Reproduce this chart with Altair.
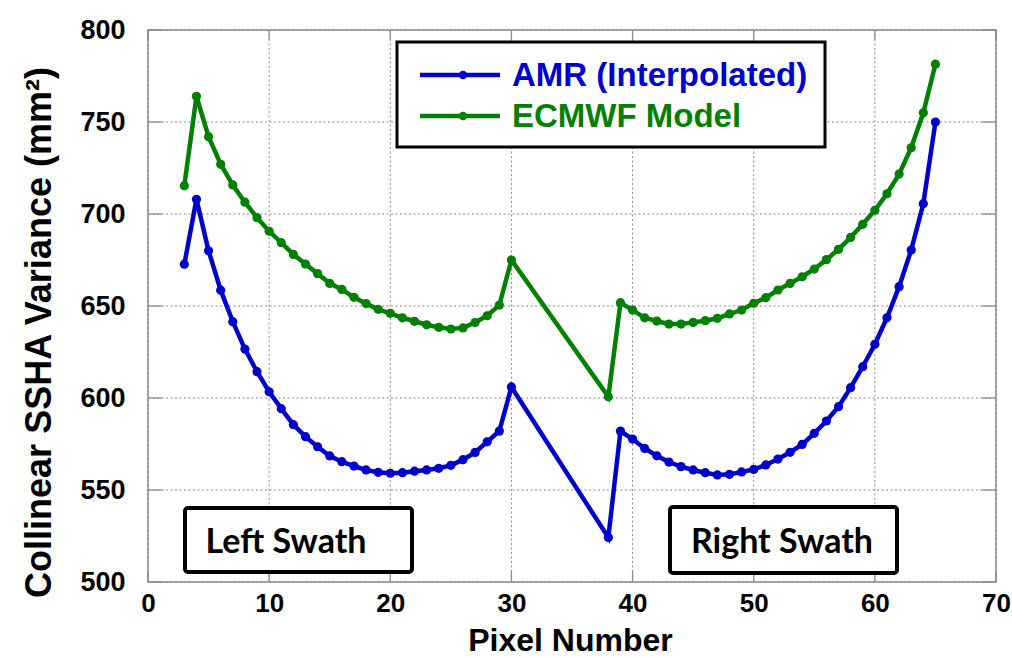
import altair as alt
import pandas as pd

# ---------------- data ----------------
pixel = list(range(3, 31)) + [38] + list(range(39, 66))

amr = [672.7, 708.0, 680.0, 658.6, 641.5, 626.6, 614.3, 603.4, 594.2, 585.5,
       579.0, 573.5, 568.5, 565.4, 563.0, 560.9, 559.6, 559.1, 559.4, 560.2,
       560.9, 561.8, 563.4, 566.5, 570.4, 576.2, 582.0, 606.0,
       524.2,
       582.0, 577.7, 572.6, 568.6, 565.2, 562.7, 560.9, 559.4, 558.2, 558.5,
       559.8, 561.2, 563.6, 566.8, 570.5, 574.8, 580.8, 587.5, 595.3, 605.6,
       617.0, 629.2, 643.6, 660.5, 680.4, 705.6, 750.0]

ecmwf = [715.4, 764.0, 742.0, 727.0, 715.8, 706.4, 698.0, 690.6, 684.4, 678.0,
         672.8, 667.6, 662.3, 659.0, 654.7, 651.3, 648.2, 646.0, 643.6, 641.7,
         639.8, 638.4, 637.5, 638.1, 641.0, 644.7, 650.5, 675.0,
         600.7,
         651.8, 647.8, 643.6, 641.8, 640.2, 640.2, 641.1, 642.0, 643.3, 645.7,
         647.8, 651.5, 654.5, 658.7, 662.3, 665.9, 670.1, 675.2, 680.8, 687.3,
         694.4, 702.0, 711.0, 721.7, 736.0, 755.0, 781.4]

series_names = ["AMR (Interpolated)", "ECMWF Model"]
series_colors = ["#0000CC", "#008000"]

x_ticks = [0, 10, 20, 30, 40, 50, 60, 70]
y_ticks = [500, 550, 600, 650, 700, 750, 800]

swath_labels = ["Left Swath", "Right Swath"]

x_title = "Pixel Number"
y_title = "Collinear SSHA Variance (mm\u00b2)"

# ---------------- chart ----------------
df = pd.DataFrame({
    "pixel": pixel * 2,
    "var": amr + ecmwf,
    "series": [series_names[0]] * len(pixel) + [series_names[1]] * len(pixel),
})

W, H = 848, 552
FONT = "Liberation Sans"
GRAY = "#8c8c8c"
GRID = "#8a8a8a"

xs = alt.Scale(domain=[0, 70], nice=False, zero=False)
ys = alt.Scale(domain=[500, 800], nice=False, zero=False)
color = alt.Color("series:N",
                  scale=alt.Scale(domain=series_names, range=series_colors),
                  legend=None)

x_axis = alt.Axis(
    values=x_ticks, title=x_title, format="d",
    labelFont=FONT, labelFontSize=26, labelFontWeight="bold", labelColor="black",
    labelPadding=8, ticks=False, domain=False, grid=False, labelFlush=False,
    titleFont=FONT, titleFontSize=32, titleFontWeight="bold", titleColor="black",
    titleX=422, titleY=68, titleAlign="center", titleBaseline="alphabetic",
)
y_axis = alt.Axis(
    values=y_ticks, title=y_title, format="d",
    labelFont=FONT, labelFontSize=27, labelFontWeight="bold", labelColor="black",
    labelPadding=23, ticks=False, domain=False, grid=False, labelFlush=False,
    titleFont=FONT, titleFontSize=36, titleFontWeight="bold", titleColor="black",
    titleAngle=270, titleX=-98, titleY=302, titleAlign="center",
    titleBaseline="alphabetic",
)

def X(field):
    return alt.X(field, scale=xs, axis=x_axis, title=x_title)

def Y(field):
    return alt.Y(field, scale=ys, axis=y_axis, title=y_title)

xt = alt.Chart(pd.DataFrame({"t": x_ticks}))
yt = alt.Chart(pd.DataFrame({"t": y_ticks}))

# dotted grid
grid = [
    xt.mark_rule(color=GRID, strokeWidth=1, strokeDash=[2, 2.5]).encode(
        x=X("t:Q"), y=alt.value(0), y2=alt.value(H)),
    yt.mark_rule(color=GRID, strokeWidth=1, strokeDash=[2, 2.5]).encode(
        y=Y("t:Q"), x=alt.value(0), x2=alt.value(W)),
]

# inward tick marks (MATLAB style)
tick_style = dict(color=GRAY, strokeWidth=1.3)
ticks = [
    xt.mark_rule(**tick_style).encode(x=X("t:Q"), y=alt.value(H), y2=alt.value(H - 10)),
    xt.mark_rule(**tick_style).encode(x=X("t:Q"), y=alt.value(0), y2=alt.value(10)),
    yt.mark_rule(**tick_style).encode(y=Y("t:Q"), x=alt.value(0), x2=alt.value(14)),
    yt.mark_rule(**tick_style).encode(y=Y("t:Q"), x=alt.value(W), x2=alt.value(W - 14)),
]

base = alt.Chart(df)
lines = base.mark_line(strokeWidth=4.5).encode(x=X("pixel:Q"), y=Y("var:Q"), color=color)
points = base.mark_circle(size=85, opacity=1).encode(
    x=X("pixel:Q"), y=Y("var:Q"), color=color)

# swath annotation boxes
swath_layers = []
box_pos = [(37, 264, 478, 542, 138), (522, 749, 477, 543, 634)]
for lab, (x1, x2, y1, y2, xc) in zip(swath_labels, box_pos):
    d = alt.Chart(pd.DataFrame({"label": [lab]}))
    swath_layers.append(
        d.mark_rect(fill="white", stroke="black", strokeWidth=4, cornerRadius=3)
        .encode(x=alt.value(x1), x2=alt.value(x2), y=alt.value(y1), y2=alt.value(y2)))
    swath_layers.append(
        d.mark_text(font="Lato", fontSize=34, fontWeight="bold", color="black",
                    align="center", baseline="alphabetic")
        .encode(x=alt.value(xc), y=alt.value(523), text="label:N"))

# custom legend
legend_layers = []
legend_layers.append(
    alt.Chart(pd.DataFrame({"series": series_names[:1]}))
    .mark_rect(fill="white", stroke="black", strokeWidth=3)
    .encode(x=alt.value(249), x2=alt.value(677), y=alt.value(12), y2=alt.value(117)))
for i, (name, col) in enumerate(zip(series_names, series_colors)):
    ly = 45 + 41 * i
    d = alt.Chart(pd.DataFrame({"series": [name]}))
    legend_layers.append(
        d.mark_rule(color=col, strokeWidth=4.5)
        .encode(x=alt.value(272), x2=alt.value(352), y=alt.value(ly)))
    legend_layers.append(
        d.mark_circle(color=col, size=70, opacity=1)
        .encode(x=alt.value(315), y=alt.value(ly)))
    legend_layers.append(
        d.mark_text(font=FONT, fontSize=33, fontWeight="bold", color=col,
                    align="left", baseline="alphabetic")
        .encode(x=alt.value(364), y=alt.value(ly + 11), text="series:N"))

chart = alt.layer(
    *grid, *ticks, lines, points, *swath_layers, *legend_layers
).properties(
    width=W, height=H,
    autosize=alt.AutoSizeParams(type="none"),
    padding={"left": 148, "top": 30, "right": 16, "bottom": 76},
    background="white",
).configure_view(
    stroke=GRAY, strokeWidth=1.5
)

chart.save("out.html", embed_options={"renderer": "svg", "actions": False})
